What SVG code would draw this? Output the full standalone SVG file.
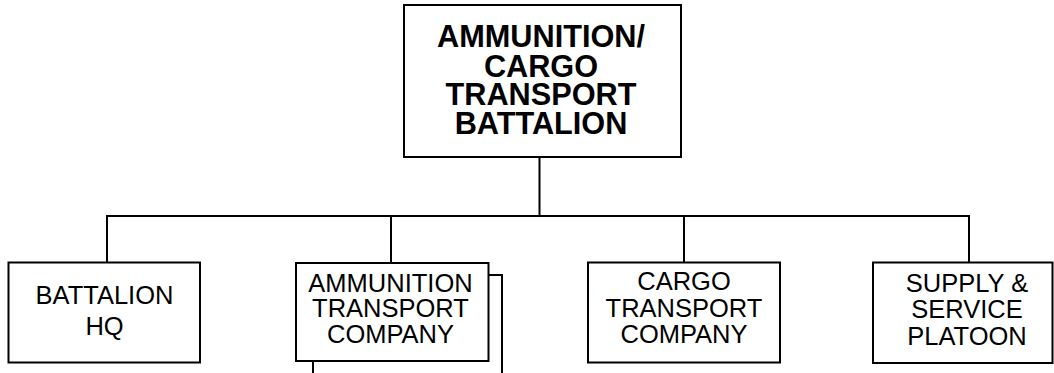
<svg xmlns="http://www.w3.org/2000/svg" width="1054" height="373" viewBox="0 0 1054 373">
<style>
.box{fill:#fff;stroke:#000;stroke-width:2}
.ln{fill:none;stroke:#000;stroke-width:2}
.t{font-family:"Liberation Sans",Arial,sans-serif;font-size:25.5px;text-anchor:middle;fill:#000}
.tb{font-family:"Liberation Sans",Arial,sans-serif;font-size:30.7px;font-weight:bold;text-anchor:middle;fill:#000}
</style>
<rect width="1054" height="373" fill="#fff"/>
<g id="connectors">
<line class="ln" x1="539.5" y1="157" x2="539.5" y2="216"/>
<line class="ln" x1="106" y1="216" x2="970" y2="216"/>
<line class="ln" x1="107" y1="216" x2="107" y2="262"/>
<line class="ln" x1="391" y1="216" x2="391" y2="263"/>
<line class="ln" x1="684" y1="216" x2="684" y2="262"/>
<line class="ln" x1="969" y1="215" x2="969" y2="262"/>
<polyline class="ln" points="488,275 502,275 502,373"/>
<line class="ln" x1="313" y1="361" x2="313" y2="373"/>
</g>
<g id="battalion">
<rect class="box" x="404" y="5" width="277" height="152"/>
<text class="tb" x="541" y="46.5">AMMUNITION/</text>
<text class="tb" x="541" y="76.5">CARGO</text>
<text class="tb" x="541" y="104.5">TRANSPORT</text>
<text class="tb" x="541" y="133.5">BATTALION</text>
</g>
<g id="hq">
<rect class="box" x="8.5" y="262.5" width="191.5" height="100"/>
<text class="t" x="104.5" y="303.5">BATTALION</text>
<text class="t" x="104.5" y="335">HQ</text>
</g>
<g id="ammo">
<rect class="box" x="296" y="263" width="192.5" height="98"/>
<text class="t" x="390.5" y="291.5">AMMUNITION</text>
<text class="t" x="390.5" y="316.5">TRANSPORT</text>
<text class="t" x="390.5" y="343">COMPANY</text>
</g>
<g id="cargo">
<rect class="box" x="588" y="262.5" width="192" height="100"/>
<text class="t" x="684" y="290">CARGO</text>
<text class="t" x="684" y="316.5">TRANSPORT</text>
<text class="t" x="684" y="343.3">COMPANY</text>
</g>
<g id="supply">
<rect class="box" x="873" y="262.5" width="179.5" height="100.5"/>
<text class="t" x="967" y="291.5">SUPPLY &amp;</text>
<text class="t" x="967" y="318">SERVICE</text>
<text class="t" x="967" y="345">PLATOON</text>
</g>
</svg>
